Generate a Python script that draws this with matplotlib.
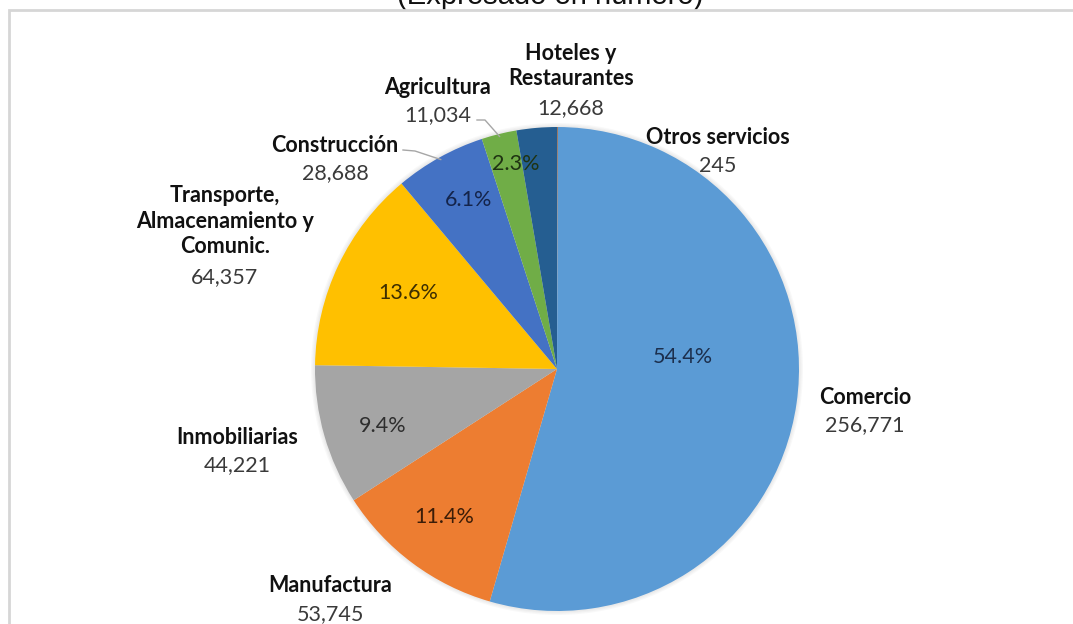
import numpy as np
import matplotlib.pyplot as plt
from matplotlib.patches import Rectangle, Circle

# data
categorias = ["Otros servicios", "Comercio", "Manufactura", "Inmobiliarias",
              "Transporte,\nAlmacenamiento y\nComunic.", "Construcción",
              "Agricultura", "Hoteles y\nRestaurantes"]
valores = [245, 256771, 53745, 44221, 64357, 28688, 11034, 12668]
colores = ["#9E480E", "#5B9BD5", "#ED7D31", "#A5A5A5", "#FFC000",
           "#4472C4", "#70AD47", "#255E91"]
pct_colores = [None, "#1c2f4d", "#3b1d08", "#2e2e2e", "#3d2e00",
               "#14244a", "#1f3312", "#0d1f33"]

W, H = 1073, 624
def Y(py):
    return H - py

# label layout (pixel positions, top-left origin)
etiqueta_pos = [(718, 138), (865, 397), (330, 586), (237, 437),
                (225, 193), (335, 145), (438, 87), (571, 52)]
pct_pos = [None, (683, 357), (444, 517), (383, 426), (408, 293),
           (469, 200), (516, 164), None]
lineas = [5, 6]

plt.rcParams["font.family"] = ["Lato", "DejaVu Sans"]
fig = plt.figure(figsize=(W / 100, H / 100), dpi=100)
ax = fig.add_axes([0, 0, 1, 1])

cx, cy, r = 557, Y(369), 242

# soft shadow around the pie
for i, a in enumerate([0.05, 0.05, 0.06]):
    ax.add_patch(Circle((cx, cy), r + 4 - i * 1.3, color="#808080", alpha=a, lw=0, zorder=0))

wedges, _ = ax.pie(valores, colors=colores, startangle=90, counterclock=False,
                   center=(cx, cy), radius=r, wedgeprops=dict(linewidth=0))

total = sum(valores)
fs = 15.5
line_h = 28
for i, (cat, val) in enumerate(zip(categorias, valores)):
    x, y = etiqueta_pos[i]
    n = cat.count("\n")
    ax.text(x, Y(y + n * line_h / 2), cat, ha="center", va="center",
            fontsize=fs, fontweight="bold", color="#111111", linespacing=1.25)
    ax.text(x, Y(y + (n + 1) * line_h), f"{val:,}", ha="center", va="center",
            fontsize=fs, color="#3a3a3a")
    if pct_pos[i] is not None:
        px, py = pct_pos[i]
        ax.text(px, Y(py), f"{val / total * 100:.1f}%", ha="center", va="center",
                fontsize=fs, color=pct_colores[i])

# leader lines for the small slices
for i in lineas:
    w = wedges[i]
    ang = np.deg2rad((w.theta1 + w.theta2) / 2)
    ex, ey = cx + r * 0.99 * np.cos(ang), cy + r * 0.99 * np.sin(ang)
    x, y = etiqueta_pos[i]
    if i == 5:
        sx, sy = 403, Y(y + 5)
        ax.plot([sx, sx + 12, ex], [sy, sy - 1, ey], color="#a6a6a6", lw=1, zorder=3)
    else:
        sx, sy = 477, Y(y + 33)
        ax.plot([sx, 485, ex], [sy, sy, ey], color="#a6a6a6", lw=1, zorder=3)

# chart frame and (cropped) title
ax.add_patch(Rectangle((9, -20), W + 40, Y(10) + 20, fill=False,
                       edgecolor="#d6d6d6", lw=2, zorder=5))
ax.text(550, Y(4), "(Expresado en número)", ha="center", va="baseline",
        fontsize=21, color="#111111", family=["Liberation Sans", "DejaVu Sans"])

ax.set_xlim(0, W)
ax.set_ylim(0, H)
ax.axis("off")
fig.savefig("out.png", dpi=100)
